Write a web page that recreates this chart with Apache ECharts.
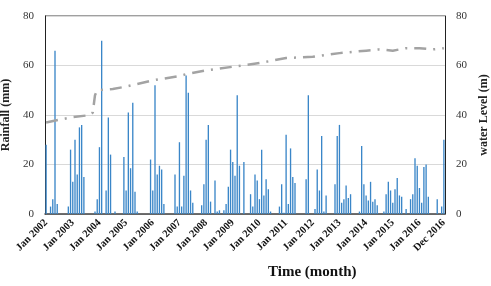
<!DOCTYPE html>
<html>
<head>
<meta charset="utf-8">
<script src="https://cdn.jsdelivr.net/npm/echarts@6/dist/echarts.min.js"></script>
<style>
  html, body { margin: 0; padding: 0; background: #fff; }
  #chart { width: 491px; height: 286px; }
</style>
</head>
<body>
<div id="chart"></div>
<script>
const years = [2002, 2003, 2004, 2005, 2006, 2007, 2008, 2009, 2010, 2011, 2012, 2013, 2014, 2015, 2016];
const monthNames = ['Jan', 'Feb', 'Mar', 'Apr', 'May', 'Jun', 'Jul', 'Aug', 'Sep', 'Oct', 'Nov', 'Dec'];

// monthly rainfall (mm), one row per year
const rainfall = [
    28, 0, 3, 6, 66, 4, 0, 0, 0, 0, 3, 26,
    13, 30, 16, 35, 36, 15, 0, 0, 0, 0, 1, 6,
    27, 70, 0, 9.5, 39, 24, 0, 1, 0, 0, 0, 23,
    9.5, 41, 18.5, 45, 9, 1, 0, 0, 0, 0, 0, 22,
    9.5, 52, 16, 19.5, 18, 4, 0, 0, 0, 0, 16, 3,
    29, 3, 15.5, 56, 49, 9.5, 4.5, 0, 0, 0, 3.5, 12,
    30, 36, 5, 0, 13.5, 1, 1.5, 0, 1.5, 4, 11, 26,
    21, 15.5, 48, 19.5, 0, 21, 0, 0, 8, 3, 16, 13.5,
    6, 26, 7.5, 14, 10, 1, 0, 0, 0, 3, 12, 0.5,
    32, 4, 26.5, 15, 12.5, 0, 0, 0, 0, 14, 48, 0,
    0, 2, 18, 9.5, 31.5, 1, 7.5, 0, 0, 0, 12, 31.5,
    36, 4.5, 6, 11.5, 6.5, 8, 0, 0, 0, 1, 27.5, 12,
    7.5, 5.5, 13, 5, 6, 3.5, 0, 0, 1, 8, 13, 9.5,
    4.5, 10, 14.5, 7.5, 7, 0, 2, 0, 6, 8, 22.5, 19.5,
    10.5, 4.5, 19, 20, 7, 0, 0, 0, 6, 0, 3, 30
];

// water level (m) read at [month index, level]
const waterLevel = [
    [0, 37], [11, 39], [20, 40], [21, 41], [22, 48], [23, 50], [30, 50.5],
    [36, 51.5], [48, 54], [60, 55.7], [63, 56.5], [72, 58], [84, 59.5],
    [96, 61], [108, 63], [120, 63.5], [132, 65], [144, 66], [150, 66.5],
    [156, 66], [162, 67], [168, 67], [174, 66.5], [179, 67]
];

const yTicks = [0, 20, 40, 60, 80];

const months = [];
years.forEach((y) => monthNames.forEach((m) => months.push(m + ' ' + y)));
const lastIdx = months.length - 1;

const serif = '"Liberation Serif", "Times New Roman", serif';

const chart = echarts.init(document.getElementById('chart'));
chart.setOption({
    animation: false,
    grid: { left: 45, right: 46, top: 16, bottom: 72, outerBoundsMode: 'none' },
    xAxis: {
        type: 'category',
        data: months,
        axisTick: { show: false },
        axisLine: { lineStyle: { color: '#404040', width: 1.5 } },
        axisLabel: {
            interval: (i) => i % 12 === 0 || i === lastIdx,
            rotate: 45,
            margin: 7,
            fontFamily: serif,
            fontWeight: 'bold',
            fontSize: 10.5,
            color: '#111',
        },
    },
    yAxis: [
        {
            type: 'value',
            min: yTicks[0],
            max: yTicks[yTicks.length - 1],
            interval: 20,
            name: 'Rainfall (mm)',
            nameLocation: 'middle',
            nameRotate: 90,
            nameGap: 29,
            nameTextStyle: { fontFamily: serif, fontWeight: 'bold', fontSize: 12, color: '#222' },
            axisLine: { show: true, lineStyle: { color: '#222', width: 1 } },
            axisTick: { show: false },
            axisLabel: { margin: 11, fontFamily: serif, fontSize: 11, color: '#333' },
            splitLine: { lineStyle: { color: '#d9d9d9' } },
        },
        {
            type: 'value',
            min: yTicks[0],
            max: yTicks[yTicks.length - 1],
            interval: 20,
            name: 'water Level (m)',
            nameLocation: 'middle',
            nameRotate: 90,
            nameGap: 31,
            nameTextStyle: { fontFamily: serif, fontWeight: 'bold', fontSize: 12, color: '#222' },
            axisLine: { show: true, lineStyle: { color: '#222', width: 1 } },
            axisTick: { show: false },
            axisLabel: { margin: 11, fontFamily: serif, fontSize: 11, color: '#333' },
            splitLine: { show: false },
        },
    ],
    graphic: [
        {
            type: 'line',
            shape: { x1: 45, y1: 16, x2: 445, y2: 16 },
            style: { stroke: '#808080', lineWidth: 1.5 },
        },
        {
            type: 'text',
            left: 268,
            top: 265,
            style: {
                text: 'Time (month)',
                fontFamily: serif,
                fontWeight: 'bold',
                fontSize: 15,
                fill: '#111',
                textAlign: 'center',
            },
        },
    ],
    series: [
        {
            name: 'Rainfall',
            type: 'bar',
            data: rainfall,
            barWidth: '60%',
            itemStyle: { color: '#3a86c8' },
        },
        {
            name: 'Water level',
            type: 'line',
            yAxisIndex: 1,
            data: waterLevel,
            symbol: 'none',
            lineStyle: { color: '#a3a3a3', width: 2.5, type: [12, 7, 2, 7] },
        },
    ],
});
</script>
</body>
</html>
